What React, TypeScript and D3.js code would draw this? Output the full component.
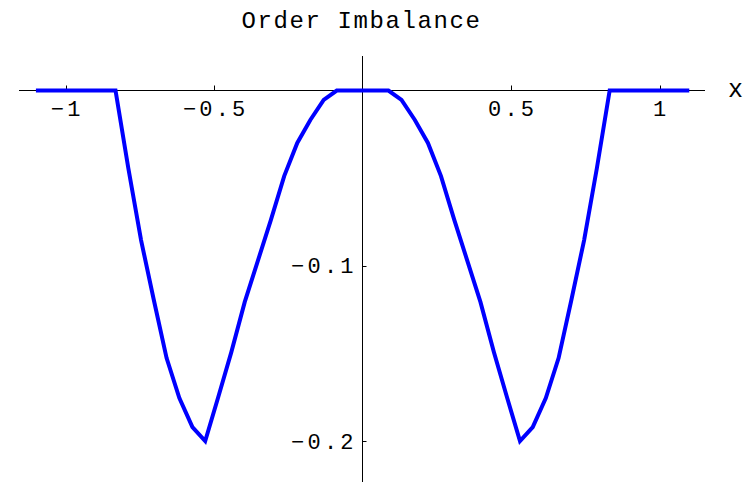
import React from "react";
import * as d3 from "d3";

const title = "Order Imbalance";
const xAxisLabel = "x";

const xs = [
  -1.1, -0.832, -0.789, -0.746, -0.703, -0.66, -0.617, -0.573, -0.53, -0.486,
  -0.442, -0.397, -0.353, -0.309, -0.264, -0.22, -0.176, -0.131, -0.087,
  0.087, 0.131, 0.176, 0.22, 0.264, 0.309, 0.353, 0.397, 0.442, 0.486, 0.53,
  0.573, 0.617, 0.66, 0.703, 0.746, 0.789, 0.832, 1.1,
];
const ys = [
  0, 0, -0.0442, -0.0853, -0.1195, -0.1526, -0.1754, -0.192, -0.2, -0.1748,
  -0.1492, -0.1207, -0.0973, -0.0739, -0.0488, -0.0299, -0.0168, -0.0054, 0,
  0, -0.0054, -0.0168, -0.0299, -0.0488, -0.0739, -0.0973, -0.1207, -0.1492,
  -0.1748, -0.2, -0.192, -0.1754, -0.1526, -0.1195, -0.0853, -0.0442, 0, 0,
];

const xTicks = [-1, -0.5, 0.5, 1];
const xTickLabels = ["\u22121", "\u22120.5", "0.5", "1"];
const yTicks = [-0.1, -0.2];
const yTickLabels = ["\u22120.1", "\u22120.2"];

const W = 744;
const H = 482;
const FONT = "'Liberation Mono', 'DejaVu Sans Mono', monospace";

export default function App() {
  const x = d3.scaleLinear().domain([-1.157, 1.153]).range([19, 705]);
  const y = d3.scaleLinear().domain([0.0197, -0.2233]).range([56, 482]);

  const pts: [number, number][] = xs.map((v, i) => [v, ys[i]]);
  const line = d3
    .line<[number, number]>()
    .x((d) => x(d[0]))
    .y((d) => y(d[1]));

  const x0 = Math.floor(x(0)) + 0.5;
  const y0 = Math.floor(y(0)) + 0.5;
  const ls = 3.2;

  return (
    <svg
      width={W}
      height={H}
      style={{ position: "absolute", left: 0, top: 0, background: "#fff" }}
    >
      <rect width={W} height={H} fill="#fff" />
      {/* axes */}
      <line x1={x.range()[0]} x2={x.range()[1]} y1={y0} y2={y0} stroke="#000" strokeWidth={1} />
      <line x1={x0} x2={x0} y1={y.range()[1]} y2={y.range()[0]} stroke="#000" strokeWidth={1} />
      {xTicks.map((t, i) => (
        <g key={"xt" + i}>
          <line x1={Math.round(x(t)) + 0.5} x2={Math.round(x(t)) + 0.5} y1={y0 - 5} y2={y0} stroke="#000" strokeWidth={1} />
          <text
            x={x(t) + ls / 2}
            y={y0 + 20}
            textAnchor="middle"
            dominantBaseline="central"
            fontFamily={FONT}
            fontSize={22}
            letterSpacing={ls}
            fill="#000"
          >
            {xTickLabels[i]}
          </text>
        </g>
      ))}
      {yTicks.map((t, i) => (
        <g key={"yt" + i}>
          <line x1={x0} x2={x0 + 4} y1={Math.round(y(t)) + 0.5} y2={Math.round(y(t)) + 0.5} stroke="#000" strokeWidth={1} />
          <text
            x={353.5 + ls}
            y={y(t) + 2}
            textAnchor="end"
            dominantBaseline="central"
            fontFamily={FONT}
            fontSize={22}
            letterSpacing={ls}
            fill="#000"
          >
            {yTickLabels[i]}
          </text>
        </g>
      ))}
      <text
        x={728}
        y={y0}
        dominantBaseline="central"
        fontFamily={FONT}
        fontSize={25}
        fill="#000"
      >
        {xAxisLabel}
      </text>
      <text
        x={361.5}
        y={21.5}
        textAnchor="middle"
        dominantBaseline="central"
        fontFamily={FONT}
        fontSize={24}
        letterSpacing={1.6}
        fill="#000"
      >
        {title}
      </text>
      <path d={line(pts) || ""} fill="none" stroke="#0000ff" strokeWidth={4} strokeLinejoin="miter" />
    </svg>
  );
}
